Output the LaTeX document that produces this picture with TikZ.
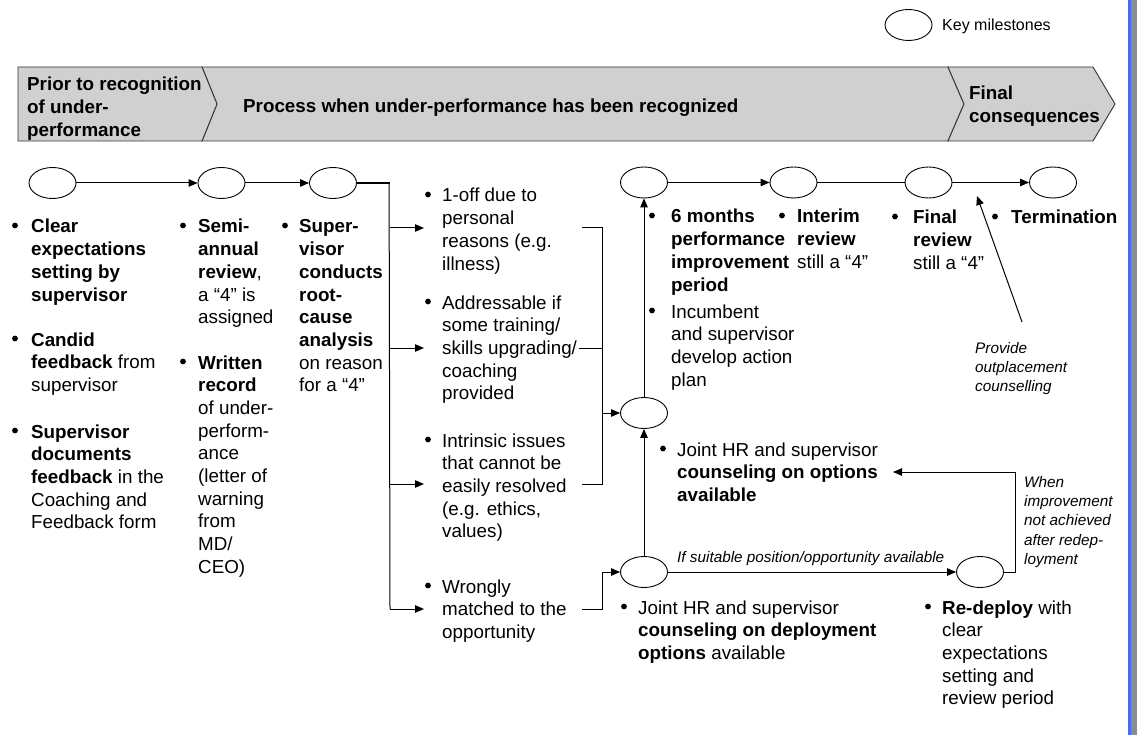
\documentclass[tikz,border=0pt]{standalone}
\usepackage{fontspec}
\setmainfont{Liberation Sans}
\usetikzlibrary{arrows.meta,shapes.geometric}

\definecolor{bannergray}{RGB}{208,208,208}
\definecolor{edgeblue}{RGB}{72,108,240}
\definecolor{edgegray}{RGB}{140,140,140}

% multi-line text whose reference point is the first baseline
\newcommand{\txtblock}[1]{\parbox[t]{320pt}{\raggedright #1}}

\tikzset{
  body/.style={anchor=base west, inner sep=0pt, font=\fontsize{18.8}{22.7}\selectfont},
  dot/.style={circle, fill=black, draw=none, inner sep=0pt, minimum size=5.8pt},
  note/.style={anchor=base west, inner sep=0pt, font=\fontsize{15.3}{19.4}\selectfont\itshape},
  mile/.style={ellipse, draw, line width=0.9pt, minimum width=47pt, minimum height=31pt, inner sep=0pt},
  link/.style={line width=1pt},
  arr/.style={link, -{Triangle[length=9pt,width=7.5pt]}},
  banner/.style={fill=bannergray, draw=black!80, line width=0.9pt, line join=miter}
}

\begin{document}
\begin{tikzpicture}[x=1pt,y=-1pt]
\useasboundingbox (0,0) rectangle (1137,735);
\fill[white] (0,0) rectangle (1137,735);

% right page edge
\fill[edgeblue] (1128,0) rectangle (1130.5,735);
\fill[edgegray] (1130.5,0) rectangle (1137,735);

% legend
\node[mile] (key) at (908.5,25) {};
\node[anchor=base west, inner sep=0pt, font=\fontsize{16}{19}\selectfont] (keylbl) at (942,31) {Key milestones};

% phase banner
\draw[banner] (202,67) -- (948,67) -- (964,104) -- (948,141) -- (202,141) -- (217,104) -- cycle;
\draw[banner] (18,67) -- (202,67) -- (217,104) -- (202,141) -- (18,141) -- cycle;
\draw[banner] (948,67) -- (1093,67) -- (1115,104) -- (1093,141) -- (948,141) -- (964,104) -- cycle;
\node[body] (ph1) at (27,91) {\txtblock{\bfseries Prior to recognition\\ of under-\\ performance}};
\node[body] (ph2) at (243,113) {\bfseries Process when under-performance has been recognized};
\node[body] (ph3) at (969,100) {\txtblock{\bfseries Final\\ consequences}};

% milestones
\node[mile] (e1) at (52.5,183) {};
\node[mile] (e2) at (221.5,183) {};
\node[mile] (e3) at (333,183) {};
\node[mile] (e4) at (644,182.5) {};
\node[mile] (e5) at (793.5,182.5) {};
\node[mile] (e6) at (928.5,182.5) {};
\node[mile] (e7) at (1053,182.5) {};
\node[mile] (mid) at (644,413) {};
\node[mile] (low) at (644,572) {};
\node[mile] (rd) at (980,572) {};

\draw[arr] (e1) -- (e2);
\draw[arr] (e2) -- (e3);
\draw[arr] (e4) -- (e5);
\draw[link] (e5) -- (e6);
\draw[arr] (e6) -- (e7);
\draw[arr] (low) -- (mid);
\draw[arr] (mid) -- (e4);
\draw[arr] (low) -- (rd);

% root-cause split into four cases
\coordinate (split) at (390,183);
\coordinate (splitend) at (390,609);
\draw[link, line width=1.8pt] (e3) -- (split);
\draw[link] (389.1,183) -- (splitend);
\foreach \yy/\n in {228/1,348/2,484/3,609/4}{
  \coordinate (src\n) at (390,\yy);
  \coordinate (dst\n) at (424,\yy);
  \draw[arr] (src\n) -- (dst\n);
}

% bracket for the first three cases
\coordinate (ra) at (582,228);
\coordinate (rac) at (602,228);
\coordinate (rb) at (579,348);
\coordinate (rbc) at (602,348);
\coordinate (rc) at (582,484);
\coordinate (rcc) at (602,484);
\coordinate (jmid) at (602,413);
\draw[link] (ra) -- (rac) -- (rcc) -- (rc);
\draw[link] (rb) -- (rbc);
\draw[arr] (jmid) -- (mid);

% bracket for the last case
\coordinate (rd1) at (582,609);
\coordinate (rd1c) at (602,609);
\coordinate (jlow) at (602,572);
\draw[link] (rd1) -- (rd1c) -- (jlow);
\draw[arr] (jlow) -- (low);

% loop back after redeployment
\coordinate (lp1) at (1015,572);
\coordinate (lp2) at (1015,472);
\coordinate (lp3) at (893,472);
\draw[link] (rd) -- (lp1) -- (lp2);
\draw[arr] (lp2) -- (lp3);

% outplacement pointer
\coordinate (op1) at (1022,322);
\coordinate (op2) at (977,196);
\draw[arr] (op1) -- (op2);

% column 1
\node[dot] (b1a) at (15,225.5) {};
\node[body] (t1a) at (31,233) {\txtblock{\textbf{Clear}\\ \textbf{expectations}\\ \textbf{setting by}\\ \textbf{supervisor}}};
\node[dot] (b1b) at (15,338.5) {};
\node[body] (t1b) at (31,346) {\txtblock{\textbf{Candid}\\ \textbf{feedback} from\\ supervisor}};
\node[dot] (b1c) at (15,430.5) {};
\node[body] (t1c) at (31,438) {\txtblock{\textbf{Supervisor}\\ \textbf{documents}\\ \textbf{feedback} in the\\ Coaching and\\ Feedback form}};

% column 2
\node[dot] (b2a) at (183,225.5) {};
\node[body] (t2a) at (198,233) {\txtblock{\textbf{Semi-}\\ \textbf{annual}\\ \textbf{review},\\ a “4” is\\ assigned}};
\node[dot] (b2b) at (183,361.5) {};
\node[body] (t2b) at (198,369) {\txtblock{\textbf{Written}\\ \textbf{record}\\ of under-\\ perform-\\ ance\\ (letter of\\ warning\\ from\\ MD/\\ CEO)}};

% column 3
\node[dot] (b3) at (285,225.5) {};
\node[body] (t3) at (299,233) {\txtblock{\textbf{Super-}\\ \textbf{visor}\\ \textbf{conducts}\\ \textbf{root-}\\ \textbf{cause}\\ \textbf{analysis}\\ on reason\\ for a “4”}};

% cases
\node[dot] (bc1) at (428,194.5) {};
\node[body] (tc1) at (442,202) {\txtblock{1-off due to\\ personal\\ reasons (e.g.\\ illness)}};
\node[dot] (bc2) at (428,301.5) {};
\node[body] (tc2) at (442,309) {\txtblock{Addressable if\\ some training/\\ skills upgrading/\\ coaching\\ provided}};
\node[dot] (bc3) at (428,439.5) {};
\node[body] (tc3) at (442,447) {\txtblock{Intrinsic issues\\ that cannot be\\ easily resolved\\ (e.g. ethics,\\ values)}};
\node[dot] (bc4) at (428,585.5) {};
\node[body] (tc4) at (442,593) {\txtblock{Wrongly\\ matched to the\\ opportunity}};

% improvement path
\node[dot] (bp1) at (652,215.5) {};
\node[body] (tp1) at (671,223) {\txtblock{\textbf{6 months}\\ \textbf{performance}\\ \textbf{improvement}\\ \textbf{period}}};
\node[dot] (bp2) at (652,310.5) {};
\node[body] (tp2) at (671,318) {\txtblock{Incumbent\\ and supervisor\\ develop action\\ plan}};
\node[dot] (bir) at (782,215.5) {};
\node[body] (tir) at (797,223) {\txtblock{\textbf{Interim}\\ \textbf{review}\\ still a “4”}};
\node[dot] (bfr) at (895,216.5) {};
\node[body] (tfr) at (913,224) {\txtblock{\textbf{Final}\\ \textbf{review}\\ still a “4”}};
\node[dot] (bt) at (995,216.5) {};
\node[body] (tt) at (1011,224) {\textbf{Termination}};

% counseling and redeployment
\node[dot] (bo) at (663,448.5) {};
\node[body] (to) at (677,456) {\txtblock{Joint HR and supervisor\\ \textbf{counseling on options}\\ \textbf{available}}};
\node[dot] (bd) at (624,606.5) {};
\node[body] (td) at (638,614) {\txtblock{Joint HR and supervisor\\ \textbf{counseling on deployment}\\ \textbf{options} available}};
\node[dot] (br) at (928,606.5) {};
\node[body] (tr) at (942,614) {\txtblock{\textbf{Re-deploy} with\\ clear\\ expectations\\ setting and\\ review period}};

% italic notes
\node[note] (n1) at (677,562) {If suitable position/opportunity available};
\node[note] (n2) at (975,353) {\txtblock{Provide\\ outplacement\\ counselling}};
\node[note] (n3) at (1024,487) {\txtblock{When\\ improvement\\ not achieved\\ after redep-\\ loyment}};
\end{tikzpicture}
\end{document}
